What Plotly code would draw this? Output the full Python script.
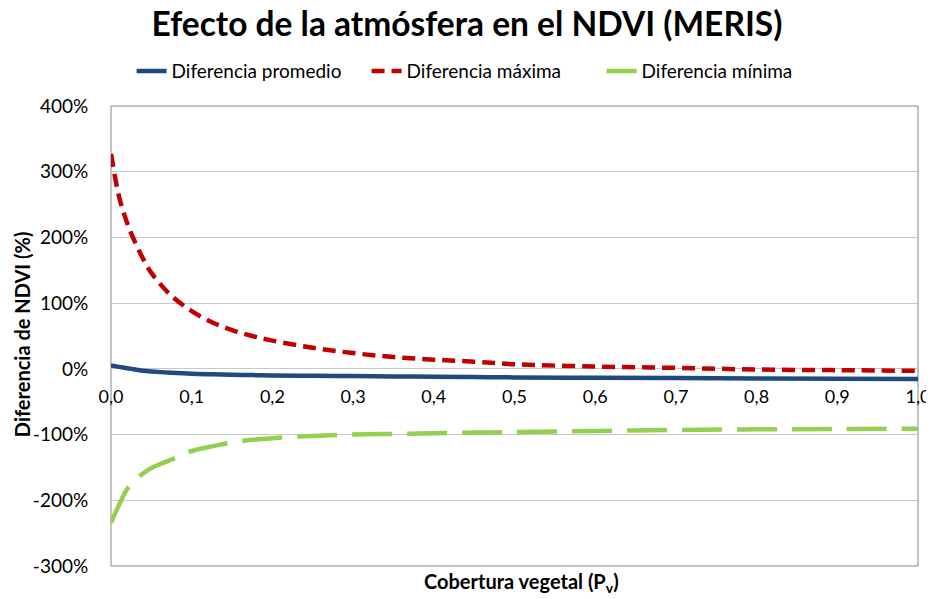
import plotly.graph_objects as go

# Cobertura vegetal (Pv)
pv = [0.0, 0.01, 0.02, 0.03, 0.04, 0.05, 0.075, 0.1, 0.125, 0.15, 0.175, 0.2,
      0.25, 0.3, 0.35, 0.4, 0.45, 0.5, 0.6, 0.7, 0.8, 0.9, 1.0]

# Diferencias de NDVI (%)
dif_promedio = [5, 3, 1, -1, -3, -4, -6, -7.5, -8.3, -9, -9.5, -10,
                -10.6, -11, -11.5, -12, -12.5, -13, -13.5, -14, -14.5, -15, -15.5]
dif_maxima = [327, 262, 222, 192, 167, 146, 111, 88, 71, 59, 50, 43,
              32, 24, 18, 14, 11, 7, 3.5, 1.5, -1, -2, -3]
dif_minima = [-234, -207, -183, -169, -159, -151, -138, -125, -118, -112, -108, -105.5,
              -102, -100, -99, -98, -97, -96, -94.5, -93, -92, -91.5, -91]

y_ticks = [-300, -200, -100, 0, 100, 200, 300, 400]
y_labels = ["-300%", "-200%", "-100%", "0%", "100%", "200%", "300%", "400%"]

FONT = "Lato, Calibri, sans-serif"
AZUL = "#1F4A7E"
ROJO = "#C00000"
VERDE = "#92D050"

fig = go.Figure()

fig.add_trace(go.Scatter(x=pv, y=dif_promedio, name="Diferencia promedio", mode="lines",
                         line=dict(color=AZUL, width=4.5, shape="spline")))
fig.add_trace(go.Scatter(x=pv, y=dif_maxima, name="Diferencia máxima", mode="lines",
                         line=dict(color=ROJO, width=4.5, shape="spline", dash="13px,7px")))
fig.add_trace(go.Scatter(x=pv, y=dif_minima, name="Diferencia mínima", mode="lines",
                         showlegend=False,
                         line=dict(color=VERDE, width=4.5, shape="spline", dash="40px,15px")))
# en la leyenda la mínima aparece como línea continua
fig.add_trace(go.Scatter(x=[None], y=[None], name="Diferencia mínima", mode="lines",
                         line=dict(color=VERDE, width=4.5)))

# marco del área de trazado
fig.add_shape(type="rect", xref="x domain", yref="y domain", x0=0, x1=1, y0=0, y1=1,
              line=dict(color="#868686", width=1), layer="below")

# la página añade 8px de margen: figura algo menor y márgenes desplazados
fig.update_layout(
    width=926, height=591,
    margin=dict(l=103, r=16, t=98, b=33),
    paper_bgcolor="white", plot_bgcolor="white",
    separators=",.",
    font=dict(family=FONT, color="#000000", size=18),
    title=dict(text="<b>Efecto de la atmósfera en el NDVI (MERIS)</b>",
               x=0.4957, xanchor="center", y=0.972, yanchor="middle",
               font=dict(size=33.5, family=FONT, color="#000000")),
    legend=dict(orientation="h", x=0.4623, xanchor="center", y=1.076, yanchor="middle",
                font=dict(size=19), bgcolor="rgba(0,0,0,0)", entrywidth=190),
    xaxis=dict(range=[0, 1], dtick=0.1, tickformat=".1f", showgrid=False, zeroline=False,
               showline=False, anchor="free", position=3 / 7, automargin=False,
               ticks="outside", ticklen=12, tickcolor="rgba(0,0,0,0)",
               tickfont=dict(size=18)),
    yaxis=dict(range=[-300, 400], tickvals=y_ticks, ticktext=y_labels, automargin=False,
               showgrid=True, gridcolor="#C8C8C8", gridwidth=1, zeroline=False,
               showline=False, ticks="outside", ticklen=18, tickcolor="rgba(0,0,0,0)",
               tickfont=dict(size=19)),
    annotations=[
        dict(text="<b>Cobertura vegetal (P<sub>v</sub>)</b>", xref="paper", yref="paper",
             x=0.509, y=-0.035, xanchor="center", yanchor="middle", showarrow=False,
             font=dict(size=20)),
        dict(text="<b>Diferencia de NDVI (%)</b>", xref="paper", yref="paper",
             x=-0.1103, y=0.504, xanchor="center", yanchor="middle", textangle=-90,
             showarrow=False, font=dict(size=20)),
    ],
)

fig.write_html("out.html")
